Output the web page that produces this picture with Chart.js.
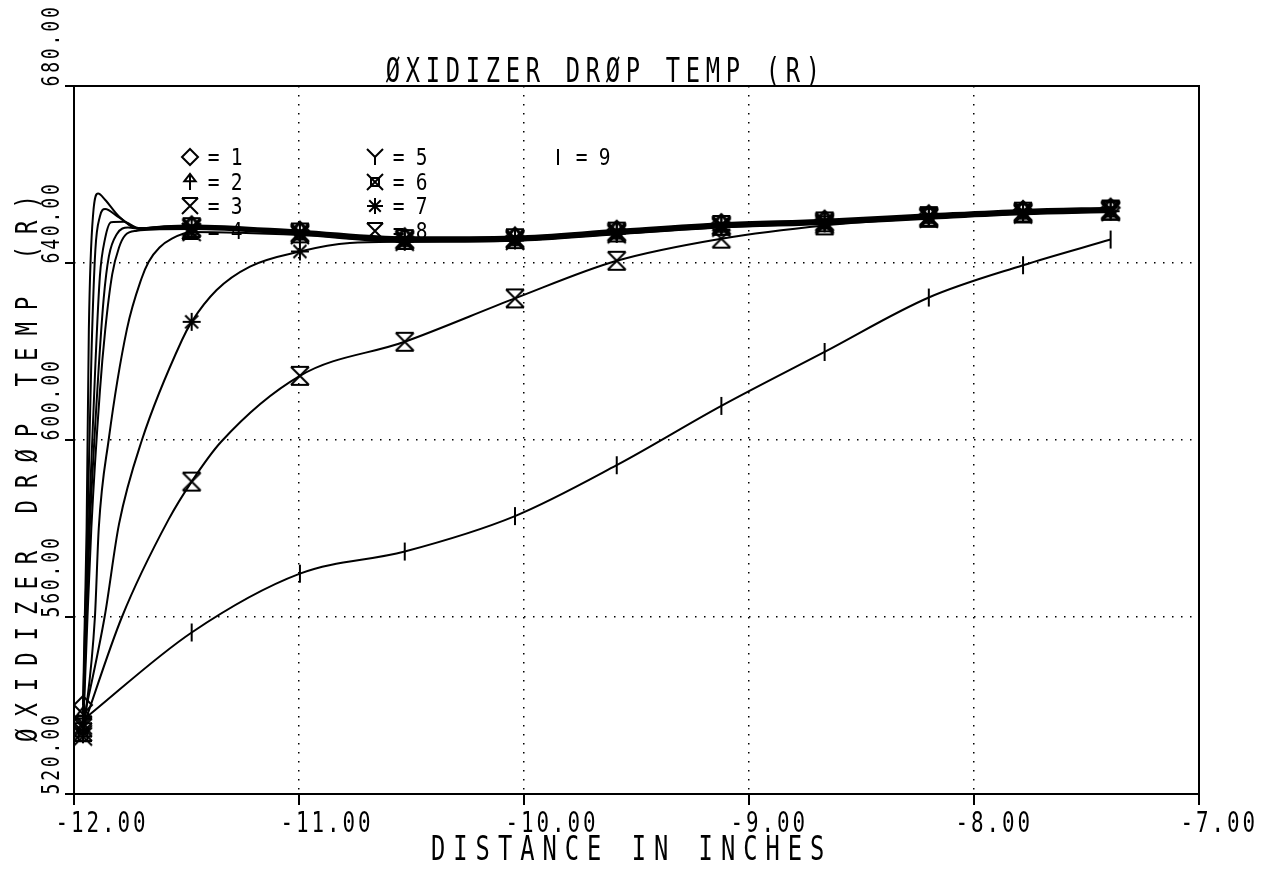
<!DOCTYPE html>
<html>
<head>
<meta charset="utf-8">
<script src="https://cdn.jsdelivr.net/npm/chart.js@4/dist/chart.umd.min.js"></script>
<style>
  html, body { margin: 0; padding: 0; background: #fff; }
  canvas { display: block; }
</style>
</head>
<body>
<canvas id="dropTemp" width="1273" height="871"></canvas>
<script>
// positions (inches) where the plotter put a symbol on every curve
const markX = [-11.96, -11.477, -10.996, -10.53, -10.04, -9.588, -9.123, -8.664, -8.201, -7.782, -7.393];

// temperature (R) of each curve at the symbol positions
const s1Mark = [540.1, 648.5, 647.3, 645.8, 646.0, 647.5, 649.0, 649.8, 651.0, 652.0, 652.5];
const s2Mark = [537.5, 648.3, 647.1, 645.6, 645.8, 647.3, 648.8, 649.6, 650.8, 651.8, 652.3];
const s3Mark = [535.5, 648.1, 646.9, 645.4, 645.6, 647.1, 648.6, 649.4, 650.6, 651.6, 652.1];
const s4Mark = [534.0, 647.9, 646.7, 645.2, 645.4, 646.9, 648.4, 649.2, 650.4, 651.4, 651.9];
const s5Mark = [533.5, 647.7, 646.5, 645.0, 645.2, 646.7, 648.2, 649.0, 650.2, 651.2, 651.7];
const s6Mark = [533.0, 647.0, 646.3, 644.8, 645.0, 646.5, 648.0, 648.8, 650.0, 651.0, 651.5];
const s7Mark = [536.0, 626.7, 642.6, 644.8, 645.1, 646.6, 648.1, 649.0, 650.2, 651.2, 651.7];
const s8Mark = [535.0, 590.6, 614.5, 622.2, 632.0, 640.5, 645.5, 648.5, 650.2, 651.2, 651.8];
const s9Mark = [536.7, 556.5, 569.8, 574.8, 582.8, 594.3, 607.7, 619.9, 632.2, 639.5, 645.3];

// extra curve points between symbols (the steep heating near the injector)
const s1RiseX = [-11.952, -11.944, -11.934, -11.915, -11.893, -11.862, -11.80, -11.713, -11.6];
const s1RiseY = [560, 580, 625, 651, 655.7, 654.3, 650.5, 647.8, 648.3];
const s2RiseX = [-11.95, -11.94, -11.922, -11.905, -11.885, -11.862, -11.80, -11.713, -11.6];
const s2RiseY = [560, 580, 620, 643, 650.5, 652.2, 650.3, 647.8, 648.2];
const s3RiseX = [-11.948, -11.935, -11.905, -11.885, -11.862, -11.835, -11.78, -11.713, -11.6];
const s3RiseY = [560, 580, 617, 637, 645.5, 649.2, 649.3, 647.9, 648.0];
const s4RiseX = [-11.945, -11.93, -11.893, -11.868, -11.845, -11.81, -11.76, -11.70, -11.6];
const s4RiseY = [560, 580, 614, 632, 641.5, 646.5, 648.0, 647.7, 647.8];
const s5RiseX = [-11.94, -11.923, -11.885, -11.861, -11.83, -11.80, -11.772, -11.72, -11.62];
const s5RiseY = [560, 580, 611, 625, 637.5, 643.5, 646.3, 647.3, 647.6];
const s6RiseX = [-11.907, -11.89, -11.846, -11.765, -11.70, -11.668, -11.62, -11.565];
const s6RiseY = [560, 580, 600, 625, 636.5, 640.3, 643.5, 645.5];
const s7RiseX = [-11.864, -11.80, -11.698, -11.52, -11.366, -11.218, -10.774];
const s7RiseY = [560, 581, 600, 622.6, 633.9, 639.2, 644.5];
const s8RiseX = [-11.787, -11.58, -11.346];
const s8RiseY = [560, 582, 599.6];
const s9RiseX = [];
const s9RiseY = [];

const symbols = ['diamond', 'arrow', 'xtop', 'xbot', 'y', 'xsq', 'star', 'hourglass', 'bar'];
const seriesNames = ['1', '2', '3', '4', '5', '6', '7', '8', '9'];

const xTicks = [-12, -11, -10, -9, -8, -7];
const xTickLabels = ['-12.00', '-11.00', '-10.00', '-9.00', '-8.00', '-7.00'];
const yTicks = [520, 560, 600, 640, 680];
const yTickLabels = ['520.00', '560.00', '600.00', '640.00', '680.00'];

const chartTitle = '\u00d8XIDIZER DR\u00d8P TEMP (R)';
const xTitle = 'DISTANCE IN INCHES';
const yTitle = '\u00d8XIDIZER DR\u00d8P TEMP (R)';

const FONT = '"DejaVu Sans Mono", "Liberation Mono", monospace';

function drawSymbol(c, type, cx, cy, h) {
    c.beginPath();
    const L = (x1, y1, x2, y2) => { c.moveTo(cx + x1, cy + y1); c.lineTo(cx + x2, cy + y2); };
    if (type === 'diamond') {
        c.moveTo(cx, cy - h); c.lineTo(cx + h, cy); c.lineTo(cx, cy + h); c.lineTo(cx - h, cy); c.closePath();
    } else if (type === 'arrow') {
        L(0, -h, 0, h);
        c.moveTo(cx - 0.7 * h, cy - 0.1 * h); c.lineTo(cx, cy - h); c.lineTo(cx + 0.7 * h, cy - 0.1 * h); c.closePath();
    } else if (type === 'xtop' || type === 'xbot' || type === 'xsq' || type === 'hourglass') {
        L(-h, -h, h, h); L(h, -h, -h, h);
        if (type === 'xtop' || type === 'hourglass') L(-h, -h, h, -h);
        if (type === 'xbot' || type === 'hourglass') L(-h, h, h, h);
        if (type === 'xsq') c.rect(cx - 0.5 * h, cy - 0.5 * h, h, h);
    } else if (type === 'y') {
        L(-h, -h, 0, 0); L(h, -h, 0, 0); L(0, 0, 0, h);
    } else if (type === 'star') {
        L(0, -h, 0, h); L(-h, 0, h, 0);
        L(-0.72 * h, -0.72 * h, 0.72 * h, 0.72 * h); L(0.72 * h, -0.72 * h, -0.72 * h, 0.72 * h);
    } else if (type === 'bar') {
        L(0, -h, 0, h);
    }
    c.stroke();
}

function makeMarker(type) {
    const cv = document.createElement('canvas');
    cv.width = 24; cv.height = 24;
    const c = cv.getContext('2d');
    c.strokeStyle = '#000';
    c.lineWidth = 2;
    drawSymbol(c, type, 12, 12, 9);
    return cv;
}

// plotter-like lettering: fixed cells, narrow glyphs
function plotText(c, str, x, y, adv, size, rot, sx) {
    c.save();
    c.translate(x, y);
    if (rot) c.rotate(rot);
    c.font = size + 'px ' + FONT;
    c.textAlign = 'center';
    c.textBaseline = 'alphabetic';
    c.fillStyle = '#000';
    for (let i = 0; i < str.length; i++) {
        c.save();
        c.translate(adv * (i + 0.5), 0);
        c.scale(sx || 0.72, 1);
        c.fillText(str[i], 0, 0);
        c.restore();
    }
    c.restore();
}

function buildSeries(markY, riseX, riseY) {
    const pts = markX.map((x, i) => ({ x: x, y: markY[i], m: true }));
    riseX.forEach((x, i) => pts.push({ x: x, y: riseY[i], m: false }));
    return pts.sort((a, b) => a.x - b.x);
}

const allMarks = [s1Mark, s2Mark, s3Mark, s4Mark, s5Mark, s6Mark, s7Mark, s8Mark, s9Mark];
const allRiseX = [s1RiseX, s2RiseX, s3RiseX, s4RiseX, s5RiseX, s6RiseX, s7RiseX, s8RiseX, s9RiseX];
const allRiseY = [s1RiseY, s2RiseY, s3RiseY, s4RiseY, s5RiseY, s6RiseY, s7RiseY, s8RiseY, s9RiseY];

const datasets = seriesNames.map((name, i) => ({
    label: name,
    data: buildSeries(allMarks[i], allRiseX[i], allRiseY[i]),
    borderColor: '#000',
    borderWidth: 2,
    fill: false,
    cubicInterpolationMode: 'monotone',
    pointStyle: makeMarker(symbols[i]),
    pointRadius: (ctx) => (ctx.raw && ctx.raw.m ? 6 : 0),
    pointHoverRadius: 0
}));

const plotterDecor = {
    id: 'plotterDecor',
    beforeDraw(chart) {
        const c = chart.ctx;
        c.save();
        c.fillStyle = '#fff';
        c.fillRect(0, 0, chart.width, chart.height);
        c.restore();
    },
    afterDraw(chart) {
        const c = chart.ctx;
        const a = chart.chartArea;
        const xs = chart.scales.x, ys = chart.scales.y;
        c.save();
        c.strokeStyle = '#000';
        c.lineWidth = 2;
        c.strokeRect(a.left, a.top, a.right - a.left, a.bottom - a.top);

        // tick marks outside the frame
        c.beginPath();
        xTicks.forEach(v => { const px = xs.getPixelForValue(v); c.moveTo(px, a.bottom); c.lineTo(px, a.bottom + 11); });
        yTicks.forEach(v => { const py = ys.getPixelForValue(v); c.moveTo(a.left, py); c.lineTo(a.left - 9, py); });
        c.stroke();

        xTicks.forEach((v, i) => {
            plotText(c, xTickLabels[i], xs.getPixelForValue(v) - 20, 832, 15.5, 29);
        });
        yTicks.forEach((v, i) => {
            plotText(c, yTickLabels[i], 59, ys.getPixelForValue(v) + 2, 13.7, 25, -Math.PI / 2);
        });

        plotText(c, chartTitle, 383, 82, 20, 33);
        plotText(c, xTitle, 427, 860, 22.3, 33);
        plotText(c, yTitle, 37, 748, 25.4, 31, -Math.PI / 2);

        // legend written inside the plot
        const rowsY = [157, 182, 206, 231];
        const cols = [
            { sx: 190, ex: 208 },
            { sx: 375, ex: 393 },
            { sx: 558, ex: 576 }
        ];
        c.lineWidth = 2;
        symbols.forEach((s, i) => {
            const col = cols[Math.floor(i / 4)];
            const cy = rowsY[i % 4];
            drawSymbol(c, s, col.sx, cy, 8);
            plotText(c, '= ' + seriesNames[i], col.ex, cy + 8, 11.5, 23, 0, 0.85);
        });
        c.restore();
    }
};

new Chart(document.getElementById('dropTemp'), {
    type: 'line',
    data: { datasets: datasets },
    options: {
        responsive: false,
        animation: false,
        events: [],
        layout: { padding: { left: 74, right: 74, top: 86, bottom: 77 } },
        plugins: {
            legend: { display: false },
            title: { display: false },
            tooltip: { enabled: false }
        },
        scales: {
            x: {
                type: 'linear',
                min: -12,
                max: -7,
                ticks: { display: false, stepSize: 1 },
                grid: {
                    drawTicks: false,
                    lineWidth: 1.5,
                    color: (ctx) => (ctx.tick && (ctx.tick.value === -12 || ctx.tick.value === -7)) ? 'rgba(0,0,0,0)' : '#000'
                },
                border: { display: false, dash: [1.5, 7.5] }
            },
            y: {
                type: 'linear',
                min: 520,
                max: 680,
                ticks: { display: false, stepSize: 40 },
                grid: {
                    drawTicks: false,
                    lineWidth: 1.5,
                    color: (ctx) => (ctx.tick && (ctx.tick.value === 520 || ctx.tick.value === 680)) ? 'rgba(0,0,0,0)' : '#000'
                },
                border: { display: false, dash: [1.5, 7.5] }
            }
        }
    },
    plugins: [plotterDecor]
});
</script>
</body>
</html>
